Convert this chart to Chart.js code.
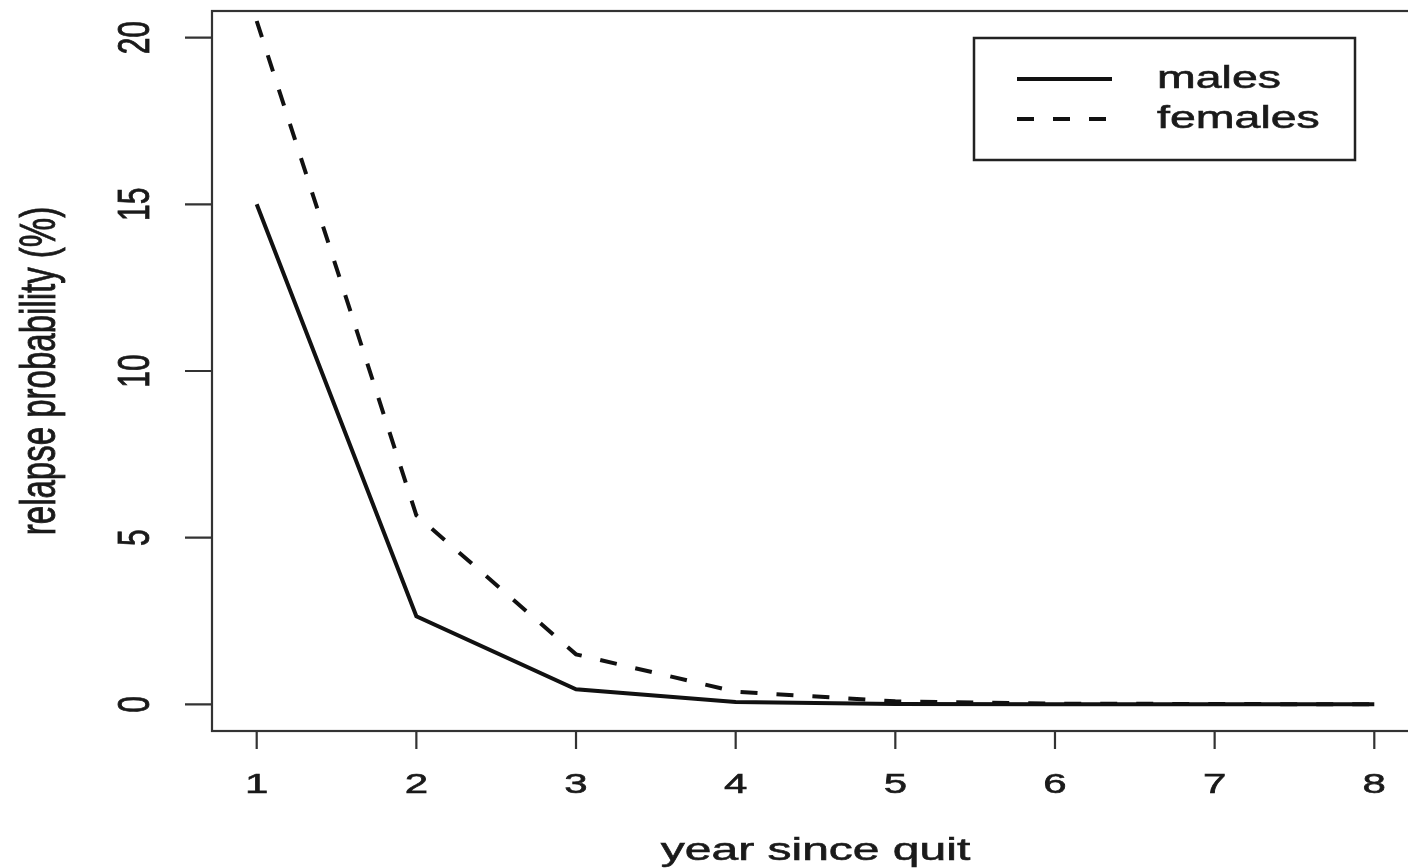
<!DOCTYPE html>
<html>
<head>
<meta charset="utf-8">
<script src="https://cdn.jsdelivr.net/npm/chart.js@4"></script>
<style>
    html, body { margin: 0; padding: 0; background: #fff; overflow: hidden; }
    #chart { display: block; }
</style>
</head>
<body>
<canvas id="chart" width="1420" height="868" style="width:1420px;height:868px"></canvas>
<script>
// Data
const years = [1, 2, 3, 4, 5, 6, 7, 8];
const males = [15.0, 2.64, 0.45, 0.07, 0.01, 0.0, 0.0, 0.0];
const females = [20.5, 5.67, 1.5, 0.38, 0.09, 0.02, 0.01, 0.0];
const xTicks = [1, 2, 3, 4, 5, 6, 7, 8];
const yTicks = [0, 5, 10, 15, 20];
const seriesNames = ['males', 'females'];

const FONT = '"Liberation Sans", Arial, Helvetica, sans-serif';
const HSCALE = 1.5; // the picture is stretched sideways
const INK = '#1a1a1a';

function drawText(ctx, text, x, y, size, angle, align) {
    ctx.save();
    ctx.translate(x, y);
    ctx.scale(HSCALE, 1);
    ctx.rotate(angle || 0);
    ctx.font = size + 'px ' + FONT;
    ctx.fillStyle = INK;
    ctx.strokeStyle = INK;
    ctx.lineWidth = 0.6;
    ctx.textAlign = align || 'center';
    ctx.textBaseline = 'middle';
    ctx.fillText(text, 0, 0);
    ctx.strokeText(text, 0, 0);
    ctx.restore();
}

// R-style box, axes and legend
const rAxesPlugin = {
    id: 'rAxes',
    afterDatasetsDraw(chart) {
        const ctx = chart.ctx;
        const area = chart.chartArea;
        const xs = chart.scales.x;
        const ys = chart.scales.y;

        ctx.save();
        ctx.strokeStyle = '#333';
        ctx.lineWidth = 2.2;
        ctx.strokeRect(area.left, area.top, area.right - area.left, area.bottom - area.top);

        ctx.beginPath();
        xTicks.forEach(v => {
            const px = xs.getPixelForValue(v);
            ctx.moveTo(px, area.bottom);
            ctx.lineTo(px, area.bottom + 18);
        });
        yTicks.forEach(v => {
            const py = ys.getPixelForValue(v);
            ctx.moveTo(area.left, py);
            ctx.lineTo(area.left - 27, py);
        });
        ctx.stroke();
        ctx.restore();

        xTicks.forEach(v => drawText(ctx, String(v), xs.getPixelForValue(v), area.bottom + 54, 28, 0));
        yTicks.forEach(v => drawText(ctx, String(v), area.left - 75, ys.getPixelForValue(v), 30, -Math.PI / 2));

        drawText(ctx, 'year since quit', xs.getPixelForValue(4.5), area.bottom + 120, 32, 0);
        drawText(ctx, 'relapse probability (%)', 41, ys.getPixelForValue(10), 33, -Math.PI / 2);

        // legend
        const lx = 974, ly = 38, lw = 381, lh = 122;
        ctx.save();
        ctx.fillStyle = '#fff';
        ctx.fillRect(lx, ly, lw, lh);
        ctx.strokeStyle = '#222';
        ctx.lineWidth = 2.5;
        ctx.strokeRect(lx, ly, lw, lh);
        chart.data.datasets.forEach((ds, i) => {
            const yy = ly + 41 + i * 40;
            ctx.beginPath();
            ctx.strokeStyle = ds.borderColor;
            ctx.lineWidth = ds.borderWidth;
            ctx.setLineDash(ds.borderDash || []);
            ctx.moveTo(lx + 43, yy);
            ctx.lineTo(lx + 138, yy);
            ctx.stroke();
            ctx.setLineDash([]);
            drawText(ctx, seriesNames[i], lx + 183, yy, 31, 0, 'left');
        });
        ctx.restore();
    }
};

const chart = new Chart(document.getElementById('chart').getContext('2d'), {
    type: 'line',
    data: {
        datasets: [
            {
                label: seriesNames[0],
                data: years.map((x, i) => ({ x: x, y: males[i] })),
                borderColor: '#111',
                borderWidth: 4,
                pointRadius: 0,
                tension: 0,
                fill: false
            },
            {
                label: seriesNames[1],
                data: years.map((x, i) => ({ x: x, y: females[i] })),
                borderColor: '#111',
                borderWidth: 4,
                borderDash: [17, 19],
                pointRadius: 0,
                tension: 0,
                fill: false
            }
        ]
    },
    options: {
        responsive: false,
        animation: false,
        layout: { padding: { left: 212, top: 11, right: 1, bottom: 137 } },
        plugins: {
            legend: { display: false },
            tooltip: { enabled: false }
        },
        scales: {
            x: { type: 'linear', min: 0.72, max: 8.28, display: false },
            y: { type: 'linear', min: -0.8, max: 20.8, display: false }
        }
    },
    plugins: [rAxesPlugin]
});
</script>
</body>
</html>
